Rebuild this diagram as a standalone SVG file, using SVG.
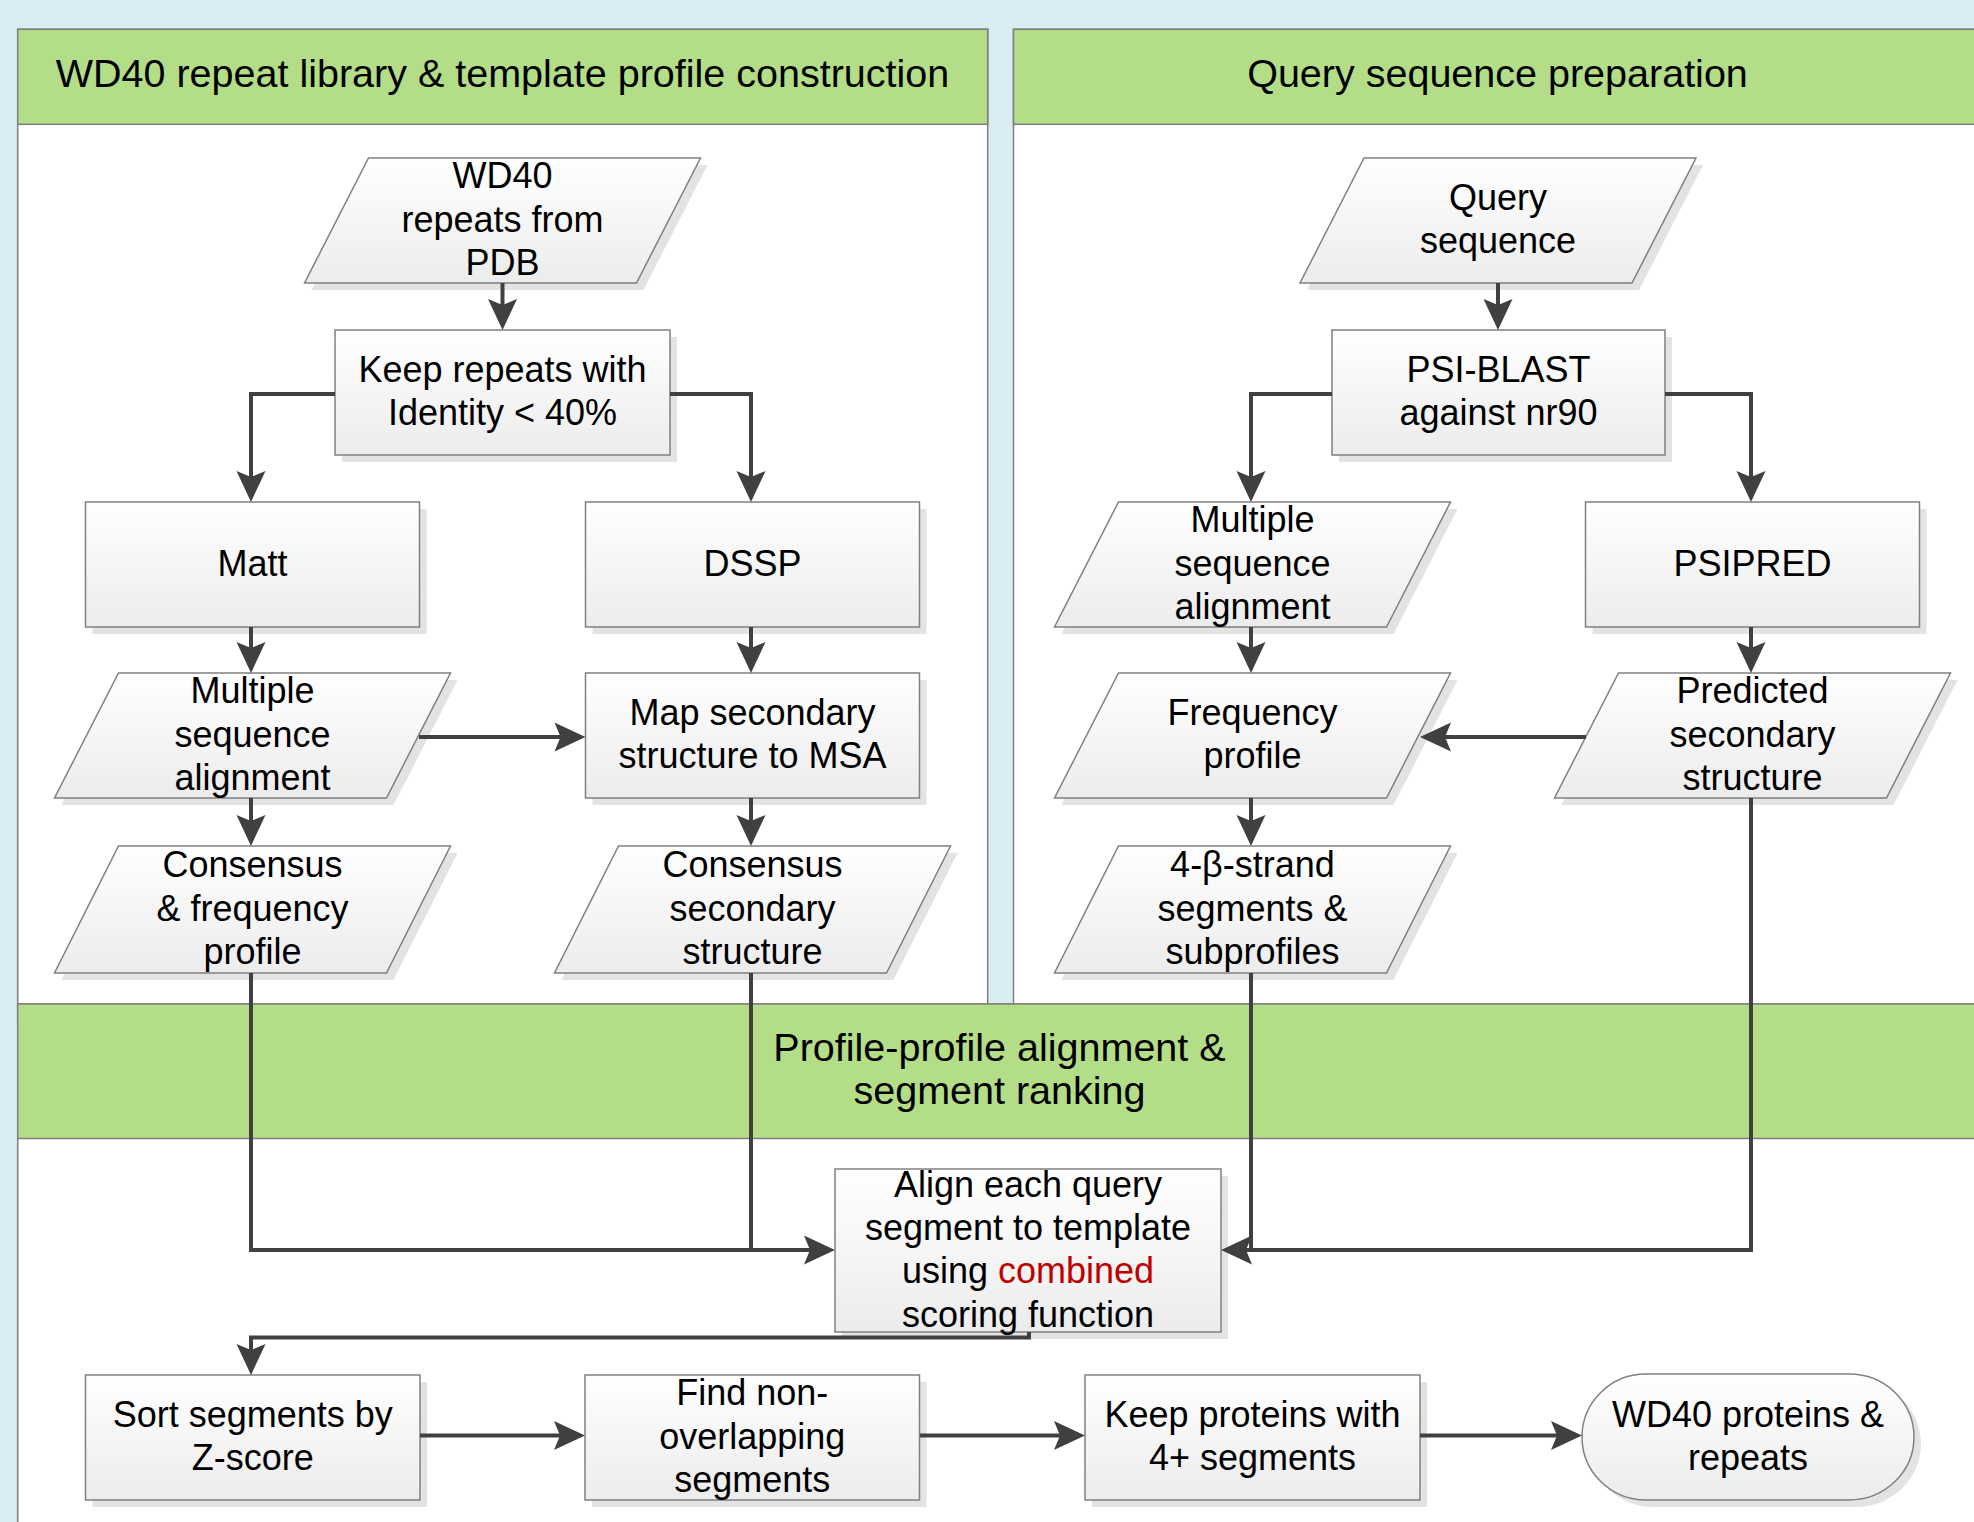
<svg xmlns="http://www.w3.org/2000/svg" width="1974" height="1522" viewBox="0 0 1974 1522">
<defs>
<linearGradient id="g" x1="0" y1="0" x2="0" y2="1">
<stop offset="0" stop-color="#ffffff"/>
<stop offset="1" stop-color="#ececec"/>
</linearGradient>
<marker id="ah" viewBox="-24 -15 33 30" refX="0" refY="0" markerWidth="33" markerHeight="30" markerUnits="userSpaceOnUse" orient="auto">
<path d="M8,0 L-23,-14.5 L-17,0 L-23,14.5 Z" fill="#404040"/>
</marker>
<style>
.panel{fill:#ffffff;stroke:#7f7f7f;stroke-width:1.5}
.hdr{fill:#b4dd88;stroke:#7f7f7f;stroke-width:1.5}
.title{font-family:"Liberation Sans",Arial,sans-serif;font-size:39.5px;text-anchor:middle;fill:#000}
.sh{fill:#e3e3e3}
.nd{fill:url(#g);stroke:#808080;stroke-width:1.5}
.t{font-family:"Liberation Sans",Arial,sans-serif;font-size:36px;text-anchor:middle;fill:#000}
.red{fill:#c00000}
.conn{fill:none;stroke:#404040;stroke-width:4}
.arr{marker-end:url(#ah)}
</style>
</defs>
<rect x="0" y="0" width="1974" height="1522" fill="#daedf3"/>
<g id="panels">
<rect class="panel" x="17.7" y="29.3" width="970" height="990"/>
<rect class="hdr" x="17.7" y="29.3" width="970" height="95"/>
<text class="title" x="502.5" y="87.3">WD40 repeat library &amp; template profile construction</text>
<rect class="panel" x="1013.5" y="29.3" width="980" height="990"/>
<rect class="hdr" x="1013.5" y="29.3" width="980" height="95"/>
<text class="title" x="1497.5" y="87.3">Query sequence preparation</text>
<rect class="panel" x="17.7" y="1004" width="1980" height="540"/>
<rect class="hdr" x="17.7" y="1004" width="1980" height="134.5"/>
<text class="title" x="999.5" y="1061">Profile-profile alignment &amp;</text>
<text class="title" x="999.5" y="1104">segment ranking</text>
</g>
<g id="n_wd40">
<path class="sh" d="M375.5,165 H707.5 L643.5,290 H311.5 Z"/>
<path class="nd" d="M368.5,158 H700.5 L636.5,283 H304.5 Z"/>
<text class="t" x="502.5" y="188.2">WD40</text>
<text class="t" x="502.5" y="231.5">repeats from</text>
<text class="t" x="502.5" y="274.8">PDB</text>
</g>
<g id="n_keep">
<rect class="sh" x="342" y="337" width="335" height="125"/>
<rect class="nd" x="335" y="330" width="335" height="125"/>
<text class="t" x="502.5" y="381.9">Keep repeats with</text>
<text class="t" x="502.5" y="425.2">Identity &lt; 40%</text>
</g>
<g id="n_matt">
<rect class="sh" x="92.5" y="509" width="334" height="125"/>
<rect class="nd" x="85.5" y="502" width="334" height="125"/>
<text class="t" x="252.5" y="575.5">Matt</text>
</g>
<g id="n_dssp">
<rect class="sh" x="592.5" y="509" width="334" height="125"/>
<rect class="nd" x="585.5" y="502" width="334" height="125"/>
<text class="t" x="752.5" y="575.5">DSSP</text>
</g>
<g id="n_msa1">
<path class="sh" d="M125.5,680 H457.5 L393.5,805 H61.5 Z"/>
<path class="nd" d="M118.5,673 H450.5 L386.5,798 H54.5 Z"/>
<text class="t" x="252.5" y="703.2">Multiple</text>
<text class="t" x="252.5" y="746.5">sequence</text>
<text class="t" x="252.5" y="789.8">alignment</text>
</g>
<g id="n_map">
<rect class="sh" x="592.5" y="680" width="334" height="125"/>
<rect class="nd" x="585.5" y="673" width="334" height="125"/>
<text class="t" x="752.5" y="725">Map secondary</text>
<text class="t" x="752.5" y="768.2">structure to MSA</text>
</g>
<g id="n_cons1">
<path class="sh" d="M125.5,853 H457.5 L393.5,980 H61.5 Z"/>
<path class="nd" d="M118.5,846 H450.5 L386.5,973 H54.5 Z"/>
<text class="t" x="252.5" y="877.2">Consensus</text>
<text class="t" x="252.5" y="920.5">&amp; frequency</text>
<text class="t" x="252.5" y="963.8">profile</text>
</g>
<g id="n_cons2">
<path class="sh" d="M625.5,853 H957.5 L893.5,980 H561.5 Z"/>
<path class="nd" d="M618.5,846 H950.5 L886.5,973 H554.5 Z"/>
<text class="t" x="752.5" y="877.2">Consensus</text>
<text class="t" x="752.5" y="920.5">secondary</text>
<text class="t" x="752.5" y="963.8">structure</text>
</g>
<g id="n_query">
<path class="sh" d="M1371,165 H1703 L1639,290 H1307 Z"/>
<path class="nd" d="M1364,158 H1696 L1632,283 H1300 Z"/>
<text class="t" x="1498" y="209.9">Query</text>
<text class="t" x="1498" y="253.2">sequence</text>
</g>
<g id="n_psiblast">
<rect class="sh" x="1339" y="337" width="333" height="125"/>
<rect class="nd" x="1332" y="330" width="333" height="125"/>
<text class="t" x="1498.5" y="381.9">PSI-BLAST</text>
<text class="t" x="1498.5" y="425.2">against nr90</text>
</g>
<g id="n_msa2">
<path class="sh" d="M1125.5,509 H1457.5 L1393.5,634 H1061.5 Z"/>
<path class="nd" d="M1118.5,502 H1450.5 L1386.5,627 H1054.5 Z"/>
<text class="t" x="1252.5" y="532.2">Multiple</text>
<text class="t" x="1252.5" y="575.5">sequence</text>
<text class="t" x="1252.5" y="618.8">alignment</text>
</g>
<g id="n_psipred">
<rect class="sh" x="1592.5" y="509" width="334" height="125"/>
<rect class="nd" x="1585.5" y="502" width="334" height="125"/>
<text class="t" x="1752.5" y="575.5">PSIPRED</text>
</g>
<g id="n_freq">
<path class="sh" d="M1125.5,680 H1457.5 L1393.5,805 H1061.5 Z"/>
<path class="nd" d="M1118.5,673 H1450.5 L1386.5,798 H1054.5 Z"/>
<text class="t" x="1252.5" y="725">Frequency</text>
<text class="t" x="1252.5" y="768.2">profile</text>
</g>
<g id="n_pred">
<path class="sh" d="M1625.5,680 H1957.5 L1893.5,805 H1561.5 Z"/>
<path class="nd" d="M1618.5,673 H1950.5 L1886.5,798 H1554.5 Z"/>
<text class="t" x="1752.5" y="703.2">Predicted</text>
<text class="t" x="1752.5" y="746.5">secondary</text>
<text class="t" x="1752.5" y="789.8">structure</text>
</g>
<g id="n_beta">
<path class="sh" d="M1125.5,853 H1457.5 L1393.5,980 H1061.5 Z"/>
<path class="nd" d="M1118.5,846 H1450.5 L1386.5,973 H1054.5 Z"/>
<text class="t" x="1252.5" y="877.2">4-β-strand</text>
<text class="t" x="1252.5" y="920.5">segments &amp;</text>
<text class="t" x="1252.5" y="963.8">subprofiles</text>
</g>
<g id="n_align">
<rect class="sh" x="842" y="1176" width="386" height="163"/>
<rect class="nd" x="835" y="1169" width="386" height="163"/>
<text class="t" x="1028" y="1196.6">Align each query</text>
<text class="t" x="1028" y="1239.9">segment to template</text>
<text class="t" x="1028" y="1283.2">using <tspan class="red">combined</tspan></text>
<text class="t" x="1028" y="1326.5">scoring function</text>
</g>
<g id="n_sort">
<rect class="sh" x="92.5" y="1382" width="334.5" height="125"/>
<rect class="nd" x="85.5" y="1375" width="334.5" height="125"/>
<text class="t" x="252.7" y="1426.9">Sort segments by</text>
<text class="t" x="252.7" y="1470.2">Z-score</text>
</g>
<g id="n_find">
<rect class="sh" x="592" y="1382" width="334.5" height="125"/>
<rect class="nd" x="585" y="1375" width="334.5" height="125"/>
<text class="t" x="752.2" y="1405.2">Find non-</text>
<text class="t" x="752.2" y="1448.5">overlapping</text>
<text class="t" x="752.2" y="1491.8">segments</text>
</g>
<g id="n_keep2">
<rect class="sh" x="1092" y="1382" width="335" height="125"/>
<rect class="nd" x="1085" y="1375" width="335" height="125"/>
<text class="t" x="1252.5" y="1426.9">Keep proteins with</text>
<text class="t" x="1252.5" y="1470.2">4+ segments</text>
</g>
<g id="n_result">
<path class="sh" d="M1653,1381 H1856 A65,63 0 0 1 1856,1507 H1653 A64,63 0 0 1 1653,1381 Z"/>
<path class="nd" d="M1646,1374 H1849 A65,63 0 0 1 1849,1500 H1646 A64,63 0 0 1 1646,1374 Z"/>
<text class="t" x="1748" y="1426.9">WD40 proteins &amp;</text>
<text class="t" x="1748" y="1470.2">repeats</text>
</g>
<g id="connectors">
<path class="conn arr" d="M502.5,283 V322"/>
<path class="conn arr" d="M335,394 H251 V494"/>
<path class="conn arr" d="M670,394 H751 V494"/>
<path class="conn arr" d="M251,627 V665"/>
<path class="conn arr" d="M751,627 V665"/>
<path class="conn arr" d="M419,737 H577.5"/>
<path class="conn arr" d="M251,798 V838"/>
<path class="conn arr" d="M751,798 V838"/>
<path class="conn arr" d="M251,973 V1250 H827"/>
<path class="conn" d="M751,973 V1250"/>
<path class="conn arr" d="M1498,283 V322"/>
<path class="conn arr" d="M1332,394 H1251 V494"/>
<path class="conn arr" d="M1665,394 H1751 V494"/>
<path class="conn arr" d="M1251,627 V665"/>
<path class="conn arr" d="M1751,627 V665"/>
<path class="conn arr" d="M1586,737 H1428"/>
<path class="conn arr" d="M1251,798 V838"/>
<path class="conn arr" d="M1251,973 V1250 H1229"/>
<path class="conn" d="M1751,798 V1250 H1251"/>
<path class="conn arr" d="M1029,1332 V1337.5 H251 V1367"/>
<path class="conn arr" d="M420,1435.5 H577"/>
<path class="conn arr" d="M920,1435.5 H1077"/>
<path class="conn arr" d="M1420,1435.5 H1574"/>
</g>
</svg>
